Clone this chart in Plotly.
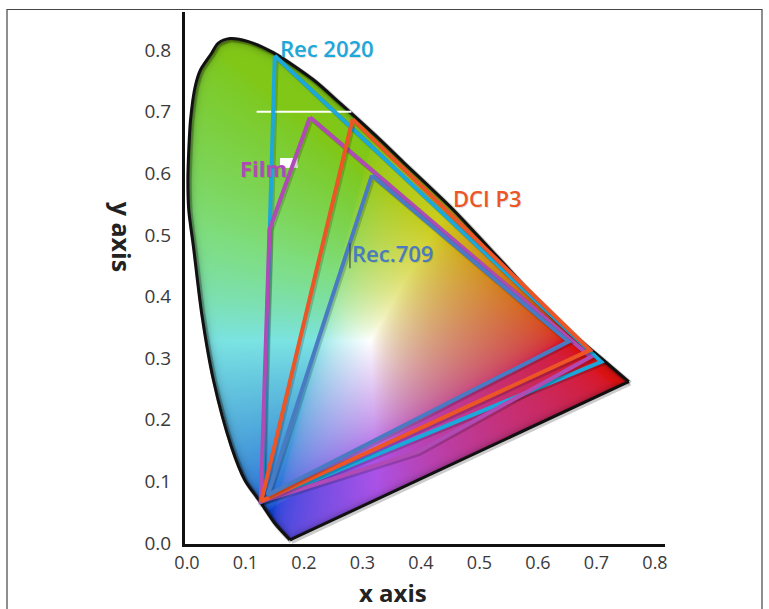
import numpy as np
import plotly.graph_objects as go

# ---------------- data ----------------
# spectral locus (curved part, from violet end round to the red end)
locus_x = [0.176, 0.150, 0.125, 0.099, 0.076, 0.045, 0.025, 0.011, 0.003, 0.0015,
           0.003, 0.006, 0.014, 0.023, 0.042, 0.053, 0.0735, 0.105, 0.1475, 0.216,
           0.2615, 0.324, 0.370, 0.455, 0.541, 0.626, 0.712, 0.755]
locus_y = [0.005, 0.032, 0.067, 0.102, 0.156, 0.265, 0.373, 0.481, 0.540, 0.589,
           0.638, 0.687, 0.741, 0.768, 0.795, 0.811, 0.819, 0.814, 0.796, 0.752,
           0.714, 0.660, 0.618, 0.541, 0.454, 0.367, 0.297, 0.262]

# gamut polygons (closed)
rec2020_x = [0.150, 0.708, 0.128, 0.150]
rec2020_y = [0.791, 0.294, 0.067, 0.791]
film_x = [0.210, 0.690, 0.395, 0.126, 0.141, 0.210]
film_y = [0.691, 0.302, 0.148, 0.067, 0.509, 0.691]
p3_x = [0.283, 0.689, 0.127, 0.283]
p3_y = [0.688, 0.313, 0.068, 0.688]
rec709_x = [0.316, 0.652, 0.138, 0.316]
rec709_y = [0.597, 0.327, 0.078, 0.597]

x_ticks = [0.0, 0.1, 0.2, 0.3, 0.4, 0.5, 0.6, 0.7, 0.8]
y_ticks = [0.0, 0.1, 0.2, 0.3, 0.4, 0.5, 0.6, 0.7, 0.8]
x_tick_labels = ["0.0", "0.1", "0.2", "0.3", "0.4", "0.5", "0.6", "0.7", "0.8"]
y_tick_labels = ["0.0", "0.1", "0.2", "0.3", "0.4", "0.5", "0.6", "0.7", "0.8"]

labels = ["Rec 2020", "Film", "DCI P3", "Rec.709"]
label_x = [0.240, 0.130, 0.5145, 0.352]
label_y = [0.8036, 0.609, 0.5605, 0.471]

# stray marks in the original artwork
stray_line_x = [0.119, 0.281]
stray_line_y = [0.700, 0.700]
stray_box_x = [0.159, 0.189, 0.189, 0.159, 0.159]
stray_box_y = [0.609, 0.609, 0.625, 0.625, 0.609]
cursor_x = [0.2786, 0.2786]
cursor_y = [0.446, 0.487]

# ---------------- styling ----------------
C2020 = "#1ca8da"
CFILM = "#b04bb6"
CP3 = "#ec5526"
C709 = "#4a7bc2"
FONT = "Open Sans"

PX_X = 585.0   # pixels per unit on x
PX_Y = 616.0   # pixels per unit on y
X_RANGE = [-2.0 / PX_X, -2.0 / PX_X + 480.0 / PX_X]
Y_RANGE = [-1.0 / PX_Y, -1.0 / PX_Y + 532.0 / PX_Y]

# ---------------- coloured fill of the locus ----------------
poly_x = np.array(locus_x + [locus_x[0]])
poly_y = np.array(locus_y + [locus_y[0]])

xs = np.arange(0.0, 0.765, 1.0 / PX_X)
ys = np.arange(0.0, 0.825, 1.0 / PX_Y)
GX, GY = np.meshgrid(xs, ys)

inside = np.zeros(GX.shape, dtype=bool)
n = len(poly_x) - 1
dmin = np.full(GX.shape, 1e9)
for i in range(n):
    xi, yi = poly_x[i], poly_y[i]
    xj, yj = poly_x[i + 1], poly_y[i + 1]
    cond = ((yi > GY) != (yj > GY)) & (GX < (xj - xi) * (GY - yi) / (yj - yi + 1e-12) + xi)
    inside ^= cond
    ax, ay = xi * PX_X, yi * PX_Y
    bx, by = xj * PX_X, yj * PX_Y
    px, py = GX * PX_X, GY * PX_Y
    vx, vy = bx - ax, by - ay
    L2 = vx * vx + vy * vy + 1e-12
    t = np.clip(((px - ax) * vx + (py - ay) * vy) / L2, 0, 1)
    d = np.hypot(px - (ax + t * vx), py - (ay + t * vy))
    dmin = np.minimum(dmin, d)

sd = np.where(inside, dmin, -dmin)
alpha = np.clip(0.5 + sd, 0, 1)

yy = np.maximum(GY, 1e-3)
Xc = GX / yy
Zc = (1 - GX - GY) / yy
r = 3.2406 * Xc - 1.5372 - 0.4986 * Zc
g = -0.9689 * Xc + 1.8758 + 0.0415 * Zc
b = 0.0557 * Xc - 0.2040 + 1.0570 * Zc
r, g, b = np.maximum(r, 0), np.maximum(g, 0), np.maximum(b, 0)
m = np.maximum(np.maximum(r, g), np.maximum(b, 1e-9))
r, g, b = (r / m) ** (1 / 2.2), (g / m) ** (1 / 2.2), (b / m) ** (1 / 2.2)
# artwork palette: yellow-green greens, pale cyans, violet blues
r = r + g * (1 - r) * (0.6 - 0.15 * b)
r = r * (1 - 0.3 * b * (1 - g))
b = b * (1 - 0.8 * g * (1 - b))
g = g + 0.25 * b * (1 - g)
sat = np.maximum(np.maximum(r, g), b) - np.minimum(np.minimum(r, g), b)
f = 1 - 0.14 * sat * g
r, g, b = r * f, g * f, b * f
mean = (r + g + b) / 3
k = 0.8
r, g, b = mean + (r - mean) * k, mean + (g - mean) * k, mean + (b - mean) * k
shade = 1 - 0.45 * np.exp(-np.maximum(dmin, 0) / 3.0)
r, g, b = np.clip(r * shade, 0, 1), np.clip(g * shade, 0, 1), np.clip(b * shade, 0, 1)

img = np.dstack([np.round(r * 255), np.round(g * 255), np.round(b * 255), np.round(alpha, 2)])

fig = go.Figure()
fig.add_trace(go.Image(z=img.tolist(), colormodel="rgba", x0=float(xs[0]), dx=1.0 / PX_X,
                       y0=float(ys[0]), dy=1.0 / PX_Y, hoverinfo="skip"))

# outline shadow + outline
sx = 1.5 / PX_X
sy = -1.5 / PX_Y
fig.add_trace(go.Scatter(x=[v + sx for v in locus_x], y=[v + sy for v in locus_y], mode="lines",
                         line=dict(color="rgba(0,0,0,0.2)", width=5, shape="spline", smoothing=0.8),
                         hoverinfo="skip", showlegend=False))
fig.add_trace(go.Scatter(x=[locus_x[-1] + sx, locus_x[0] + sx], y=[locus_y[-1] + sy, locus_y[0] + sy],
                         mode="lines", line=dict(color="rgba(0,0,0,0.2)", width=5),
                         hoverinfo="skip", showlegend=False))
fig.add_trace(go.Scatter(x=locus_x, y=locus_y, mode="lines",
                         line=dict(color="#111111", width=3, shape="spline", smoothing=0.8),
                         hoverinfo="skip", showlegend=False))
fig.add_trace(go.Scatter(x=[locus_x[-1], locus_x[0]], y=[locus_y[-1], locus_y[0]], mode="lines",
                         line=dict(color="#111111", width=3), hoverinfo="skip", showlegend=False))

# stray white marks
fig.add_trace(go.Scatter(x=stray_line_x, y=stray_line_y, mode="lines",
                         line=dict(color="white", width=2), hoverinfo="skip", showlegend=False))
fig.add_trace(go.Scatter(x=stray_box_x, y=stray_box_y, mode="lines", fill="toself",
                         fillcolor="white", line=dict(color="white", width=0),
                         hoverinfo="skip", showlegend=False))

for xs_, ys_, col, name in [(rec2020_x, rec2020_y, C2020, "Rec 2020"),
                            (film_x, film_y, CFILM, "Film"),
                            (p3_x, p3_y, CP3, "DCI P3"),
                            (rec709_x, rec709_y, C709, "Rec.709")]:
    fig.add_trace(go.Scatter(x=[v + sx for v in xs_], y=[v + sy for v in ys_], mode="lines",
                             line=dict(color="rgba(0,0,0,0.18)", width=5),
                             hoverinfo="skip", showlegend=False))
    fig.add_trace(go.Scatter(x=xs_, y=ys_, mode="lines", name=name,
                             line=dict(color=col, width=4, shape="linear"),
                             showlegend=False))

fig.add_trace(go.Scatter(x=cursor_x, y=cursor_y, mode="lines",
                         line=dict(color="#333333", width=1), hoverinfo="skip", showlegend=False))

label_colors = [C2020, CFILM, CP3, C709]
label_weights = [600, 700, 600, 600]
for t, lx, ly, c, w in zip(labels, label_x, label_y, label_colors, label_weights):
    fig.add_annotation(x=lx, y=ly, text=t, showarrow=False, xshift=1, yshift=-1.5,
                       xanchor="center", yanchor="middle",
                       font=dict(family=FONT, size=22, color="rgba(0,0,0,0.12)", weight=w))
    fig.add_annotation(x=lx, y=ly, text=t, showarrow=False, xanchor="center", yanchor="middle",
                       font=dict(family=FONT, size=22, color=c, weight=w))

# axis titles
fig.add_annotation(x=0.352, y=-0.0905, xref="x", yref="paper", text="x axis", showarrow=False,
                   xanchor="center", yanchor="middle", borderpad=0,
                   font=dict(family=FONT, size=24, color="#222222", weight=700))
fig.add_annotation(x=-0.131, y=0.497, xref="paper", yref="y", text="y axis", showarrow=False,
                   xanchor="center", yanchor="middle", borderpad=0,
                   textangle=90, font=dict(family=FONT, size=25, color="#222222", weight=700))

# outer frame
fig.add_shape(type="rect", xref="paper", yref="paper",
              x0=(7 - 185) / 480, x1=(762 - 185) / 480, y0=(544 - 640) / 532, y1=(544 - 9.5) / 532,
              line=dict(color="#444444", width=1.2), layer="below")

fig.update_layout(
    width=769, height=609,
    margin=dict(l=185, r=104, t=12, b=65),
    paper_bgcolor="white", plot_bgcolor="white",
    xaxis=dict(range=X_RANGE, tickvals=x_ticks, ticktext=x_tick_labels, showgrid=False,
               zeroline=False, showline=True, linecolor="#111111", linewidth=3, ticks="",
               ticklabelstandoff=0, tickfont=dict(family=FONT, size=18, color="#3a3a3a"),
               autorange=False, automargin=False),
    yaxis=dict(range=Y_RANGE, tickvals=y_ticks, ticktext=y_tick_labels, showgrid=False,
               zeroline=False, showline=True, linecolor="#111111", linewidth=3, ticks="",
               ticklabelstandoff=7, tickfont=dict(family=FONT, size=19, color="#3a3a3a"),
               autorange=False, scaleanchor=False, automargin=False),
    showlegend=False,
)

fig.write_html("out.html", config={"displayModeBar": False},
               post_script="document.body.style.margin='0';document.body.style.padding='0';")
